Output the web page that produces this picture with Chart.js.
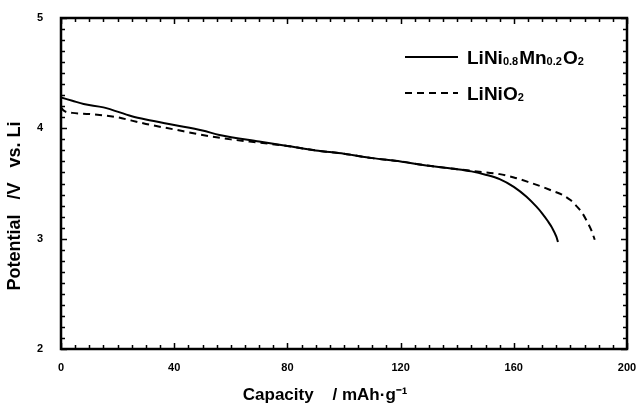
<!DOCTYPE html>
<html>
<head>
<meta charset="utf-8">
<script src="https://cdn.jsdelivr.net/npm/chart.js@4.4.1/dist/chart.umd.min.js"></script>
<style>
  html, body { margin: 0; padding: 0; background: #fff; }
  #wrap { width: 638px; height: 410px; position: relative; }
</style>
</head>
<body>
<div id="wrap"><canvas id="chart"></canvas></div>
<script>
// Discharge curves (capacity in mAh/g, potential in V)
const capNiMn = [0, 4, 8, 15, 25, 30, 40, 50, 56, 70, 80, 90, 100, 110, 120, 130, 140, 145, 150, 155, 160, 164.5, 168, 170, 172, 173.5, 175, 175.6];
const voltNiMn = [4.28, 4.25, 4.22, 4.19, 4.11, 4.08, 4.03, 3.98, 3.94, 3.88, 3.84, 3.80, 3.77, 3.73, 3.70, 3.66, 3.63, 3.61, 3.58, 3.54, 3.47, 3.38, 3.29, 3.23, 3.16, 3.10, 3.02, 2.97];

const capNi = [0, 1, 4, 10, 20, 25, 30, 40, 50, 60, 70, 80, 90, 100, 110, 120, 130, 140, 145, 150, 155, 160, 165, 170, 174, 177, 180, 182, 184, 186, 187.5, 188.6];
const voltNi = [4.19, 4.16, 4.14, 4.13, 4.10, 4.07, 4.04, 3.99, 3.94, 3.90, 3.87, 3.84, 3.80, 3.77, 3.73, 3.70, 3.66, 3.63, 3.615, 3.60, 3.585, 3.555, 3.515, 3.47, 3.43, 3.40, 3.35, 3.30, 3.24, 3.15, 3.07, 2.99];

const xTicks = [0, 40, 80, 120, 160, 200];
const yTicks = [2, 3, 4, 5];

const FONT = "'Liberation Sans', Arial, sans-serif";

function toPoints(xs, ys) {
  return xs.map((x, i) => ({ x: x, y: ys[i] }));
}

// frame + inward ticks on all four sides
const framePlugin = {
  id: 'frame',
  afterDatasetsDraw(chart) {
    const { ctx, chartArea: a, scales } = chart;
    const xs = scales.x, ys = scales.y;
    ctx.save();
    ctx.strokeStyle = '#000';
    ctx.lineWidth = 1.5;
    for (let v = 0; v <= 200; v += 5) {
      const px = Math.round(xs.getPixelForValue(v)) + 0.5;
      const len = v % 40 === 0 ? 6 : 4;
      ctx.beginPath();
      ctx.moveTo(px, a.bottom); ctx.lineTo(px, a.bottom - len);
      ctx.moveTo(px, a.top); ctx.lineTo(px, a.top + len);
      ctx.stroke();
    }
    for (let i = 20; i <= 50; i++) {
      const py = Math.round(ys.getPixelForValue(i / 10)) + 0.5;
      const len = i % 10 === 0 ? 6 : 4;
      ctx.beginPath();
      ctx.moveTo(a.left, py); ctx.lineTo(a.left + len, py);
      ctx.moveTo(a.right, py); ctx.lineTo(a.right - len, py);
      ctx.stroke();
    }
    ctx.lineWidth = 2.5;
    ctx.strokeRect(a.left, a.top, a.right - a.left, a.bottom - a.top);
    ctx.restore();
  }
};

// legend inside the plot, with subscripts
const legendPlugin = {
  id: 'innerLegend',
  afterDraw(chart) {
    const { ctx } = chart;
    const entries = [
      { ds: 0, y: 57, parts: [['LiNi', 0], ['0.8', 1], ['Mn', 0], ['0.2', 1], ['O', 0], ['2', 1]] },
      { ds: 1, y: 93, parts: [['LiNiO', 0], ['2', 1]] }
    ];
    ctx.save();
    entries.forEach(e => {
      const ds = chart.data.datasets[e.ds];
      ctx.strokeStyle = '#000';
      ctx.lineWidth = ds.borderWidth;
      ctx.setLineDash(ds.borderDash || []);
      ctx.beginPath();
      ctx.moveTo(405, e.y); ctx.lineTo(458, e.y);
      ctx.stroke();
      ctx.setLineDash([]);
      ctx.fillStyle = '#000';
      ctx.textBaseline = 'alphabetic';
      let x = 467;
      e.parts.forEach(([t, sub]) => {
        ctx.font = sub ? `bold 11px ${FONT}` : `bold 19px ${FONT}`;
        ctx.fillText(t, x, e.y + (sub ? 8 : 7));
        x += ctx.measureText(t).width + (sub ? 1 : 0);
      });
    });
    ctx.restore();
  }
};

new Chart(document.getElementById('chart'), {
  type: 'scatter',
  data: {
    datasets: [{
      label: 'LiNi0.8Mn0.2O2',
      data: toPoints(capNiMn, voltNiMn),
      showLine: true,
      borderColor: '#000',
      borderWidth: 2,
      pointRadius: 0,
      cubicInterpolationMode: 'monotone'
    }, {
      label: 'LiNiO2',
      data: toPoints(capNi, voltNi),
      showLine: true,
      borderColor: '#000',
      borderWidth: 2,
      borderDash: [7, 5],
      pointRadius: 0,
      cubicInterpolationMode: 'monotone'
    }]
  },
  options: {
    responsive: true,
    maintainAspectRatio: false,
    animation: false,
    layout: { padding: { top: 18, right: 11, left: 0, bottom: 0 } },
    plugins: {
      legend: { display: false },
      tooltip: { enabled: false }
    },
    scales: {
      x: {
        type: 'linear',
        min: 0,
        max: 200,
        afterBuildTicks: s => { s.ticks = xTicks.map(v => ({ value: v })); },
        afterFit: s => { s.height = 61; s.paddingLeft = 0; s.paddingRight = 0; },
        grid: { display: false },
        border: { display: false },
        ticks: { color: '#000', padding: 4, font: { family: FONT, size: 11, weight: 'bold' } },
        title: {
          display: true,
          // trailing spaces nudge the centred title left, as in the figure
          text: 'Capacity    / mAh·g⁻¹        ',
          color: '#000',
          padding: { top: 12 },
          font: { family: FONT, size: 17, weight: 'bold' }
        }
      },
      y: {
        type: 'linear',
        min: 2,
        max: 5,
        afterBuildTicks: s => { s.ticks = yTicks.map(v => ({ value: v })); },
        afterFit: s => { s.width = 61; },
        grid: { display: false },
        border: { display: false },
        ticks: { color: '#000', padding: 10, font: { family: FONT, size: 11, weight: 'bold' } },
        title: {
          display: true,
          text: 'Potential   /V   vs. Li         ',
          color: '#000',
          padding: { bottom: 6 },
          font: { family: FONT, size: 18, weight: 'bold' }
        }
      }
    }
  },
  plugins: [framePlugin, legendPlugin]
});
</script>
</body>
</html>
